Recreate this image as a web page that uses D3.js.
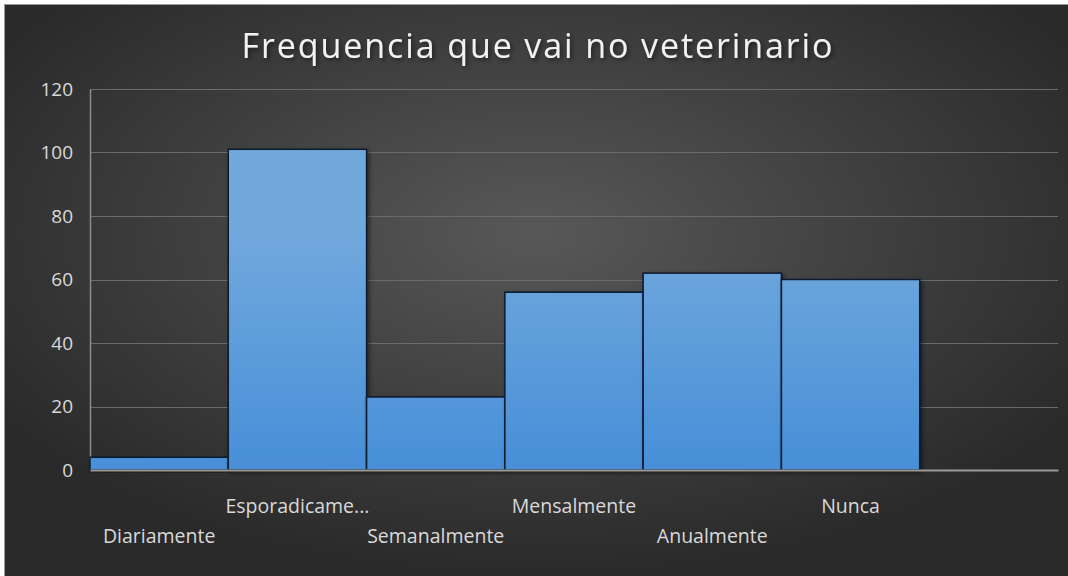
<!DOCTYPE html>
<html>
<head>
<meta charset="utf-8">
<script src="https://cdn.jsdelivr.net/npm/d3@7"></script>
<style>
  html, body { margin: 0; padding: 0; background: #fff; }
  svg { display: block; }
  text { font-family: "Open Sans", "Noto Sans", sans-serif; }
</style>
</head>
<body>
<div id="chart"></div>
<script>
// categories (the last slot is empty in the original chart)
var categories = ["Diariamente", "Esporadicame...", "Semanalmente", "Mensalmente", "Anualmente", "Nunca", ""];
var values = [4, 101, 23, 56, 62, 60, null];
var yTicks = [0, 20, 40, 60, 80, 100, 120];
var title = "Frequencia que vai no veterinario";

var W = 1068, H = 576;
var margin = {top: 89, right: 10, bottom: 106, left: 90}
  , width = 1058 - margin.left
  , height = 470 - margin.top;

var svg = d3.select('#chart').append('svg')
  .attr('width', W)
  .attr('height', H);

var defs = svg.append('defs');

var bg = defs.append('radialGradient')
  .attr('id', 'bg')
  .attr('cx', '50%').attr('cy', '40%').attr('r', '60%');
bg.append('stop').attr('offset', '0%').attr('stop-color', '#585858');
bg.append('stop').attr('offset', '100%').attr('stop-color', '#2a2a2a');

// gradient spans the plot area so short bars stay darker
var barGrad = defs.append('linearGradient')
  .attr('id', 'barGrad')
  .attr('gradientUnits', 'userSpaceOnUse')
  .attr('x1', 0).attr('y1', 140).attr('x2', 0).attr('y2', height);
barGrad.append('stop').attr('offset', '0%').attr('stop-color', '#72a9dd');
barGrad.append('stop').attr('offset', '100%').attr('stop-color', '#478fd8');

var shadow = defs.append('filter').attr('id', 'shadow')
  .attr('x', '-10%').attr('y', '-10%').attr('width', '130%').attr('height', '130%');
shadow.append('feDropShadow')
  .attr('dx', 2).attr('dy', 2).attr('stdDeviation', 2)
  .attr('flood-color', '#000').attr('flood-opacity', 0.5);

// background + frame
svg.append('rect').attr('x', 0).attr('y', 0).attr('width', W).attr('height', H).attr('fill', '#fff');
svg.append('rect').attr('x', 4).attr('y', 4).attr('width', W - 4).attr('height', H - 4).attr('fill', 'url(#bg)');
svg.append('line').attr('x1', 4).attr('x2', W).attr('y1', 4.5).attr('y2', 4.5).attr('stroke', '#9a9a9a');
svg.append('line').attr('x1', 4.5).attr('x2', 4.5).attr('y1', 4).attr('y2', H).attr('stroke', '#9a9a9a');

// title
svg.append('text')
  .attr('x', 538).attr('y', 58)
  .attr('text-anchor', 'middle')
  .attr('fill', '#f2f2f2')
  .attr('font-size', 34)
  .style('letter-spacing', '1.9px')
  .attr('filter', 'url(#shadow)')
  .text(title);

var x = d3.scaleBand().domain(categories).range([0, width]).padding(0);
var y = d3.scaleLinear().domain([0, 120]).range([height, 0]);

var main = svg.append('g')
  .attr('transform', 'translate(' + margin.left + ',' + margin.top + ')');

// gridlines
main.append('g')
  .selectAll('line')
  .data(yTicks.filter(function(d) { return d > 0; }))
  .enter().append('line')
  .attr('x1', 0).attr('x2', width)
  .attr('y1', function(d) { return Math.round(y(d)) + 0.5; })
  .attr('y2', function(d) { return Math.round(y(d)) + 0.5; })
  .attr('stroke', '#6b6b6b')
  .attr('stroke-width', 1);

// y axis
var yAxis = d3.axisLeft(y).tickValues(yTicks).tickSize(0).tickPadding(17);
var gy = main.append('g').call(yAxis);
gy.select('.domain').attr('stroke', '#8c8c8c').attr('stroke-width', 1.5);
gy.selectAll('text').attr('fill', '#d9d9d9').attr('font-size', 19)
  .style('font-family', '"Open Sans", sans-serif');

// bars
main.append('g')
  .selectAll('rect')
  .data(values.map(function(v, i) { return {cat: categories[i], v: v}; })
    .filter(function(d) { return d.v !== null; }))
  .enter().append('rect')
  .attr('x', function(d) { return x(d.cat); })
  .attr('y', function(d) { return y(d.v); })
  .attr('width', x.bandwidth())
  .attr('height', function(d) { return height - y(d.v); })
  .attr('fill', 'url(#barGrad)')
  .attr('stroke', '#0c1a2e')
  .attr('stroke-width', 1.5)
  .attr('filter', 'url(#shadow)');

// x axis
var xAxis = d3.axisBottom(x).tickSize(0).tickPadding(0);
var gx = main.append('g')
  .attr('transform', 'translate(0,' + height + ')')
  .call(xAxis);
gx.select('.domain').attr('stroke', '#9a9a9a').attr('stroke-width', 2);
gx.selectAll('text')
  .attr('fill', '#d9d9d9')
  .attr('font-size', 19.5)
  .style('font-family', '"Open Sans", sans-serif')
  .attr('dy', null)
  .attr('y', function(d, i) { return i % 2 === 0 ? 73 : 43; });
</script>
</body>
</html>
